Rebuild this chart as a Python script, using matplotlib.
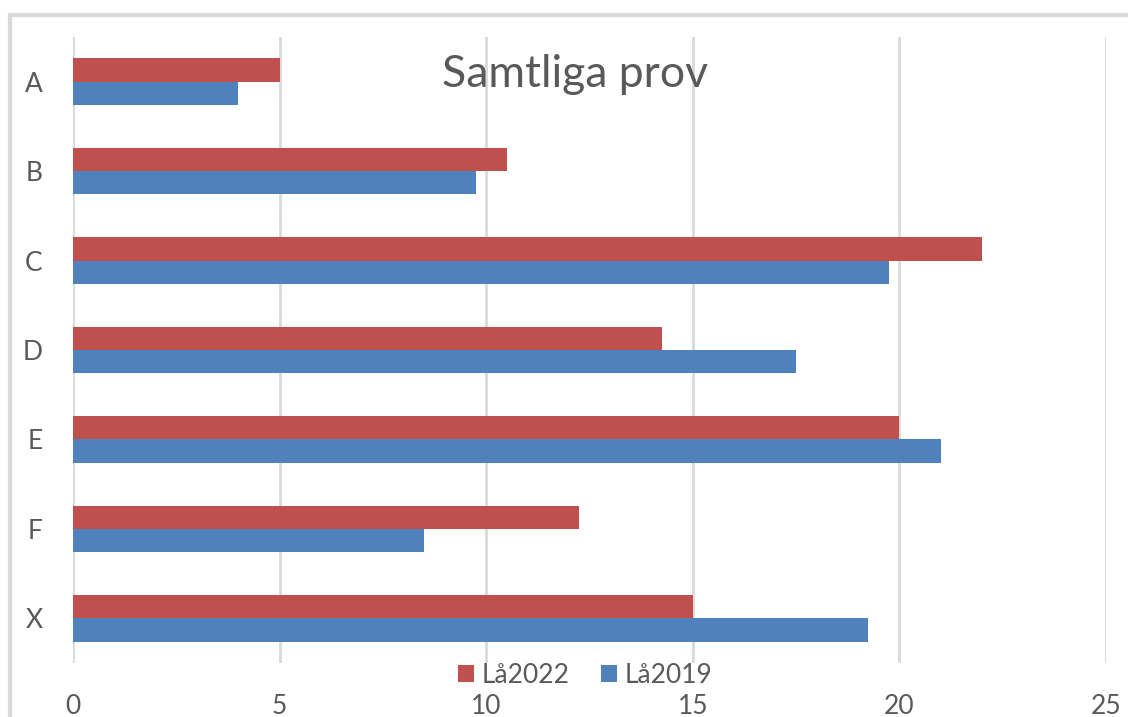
import matplotlib.pyplot as plt
import numpy as np
from matplotlib.patches import Rectangle

categories = ["A", "B", "C", "D", "E", "F", "X"]
la2022 = [5, 10.5, 22, 14.25, 20, 12.25, 15]
la2019 = [4, 9.75, 19.75, 17.5, 21, 8.5, 19.25]
x_ticks = [0, 5, 10, 15, 20, 25]

RED = "#C0504D"
BLUE = "#4F81BD"
GRID = "#D9D9D9"
TEXT = "#595959"

plt.rcParams["font.family"] = ["Lato", "DejaVu Sans"]

fig = plt.figure(figsize=(11.28, 7.17), dpi=100)
ax = fig.add_axes([73 / 1128, 1 - 663 / 717, (1106 - 73) / 1128, (663 - 37) / 717])

y = np.arange(len(categories))
h = 0.26
ax.barh(y - h / 2, la2022, height=h, color=RED, label="Lå2022", zorder=3)
ax.barh(y + h / 2, la2019, height=h, color=BLUE, label="Lå2019", zorder=3)

ax.set_ylim(len(categories) - 0.5, -0.5)
ax.set_xlim(0, 25)
ax.set_yticks(y)
ax.set_yticklabels(categories)
ax.set_xticks(x_ticks)
ax.tick_params(axis="both", length=0, labelsize=19, colors=TEXT)
ax.tick_params(axis="x", pad=22)
ax.tick_params(axis="y", pad=22)
ax.grid(axis="x", color=GRID, linewidth=2, zorder=0)
for s in ax.spines.values():
    s.set_visible(False)

ax.text(0.486, 0.94, "Samtliga prov", transform=ax.transAxes, ha="center",
        va="center", fontsize=32, color=TEXT, zorder=4)

ax.legend(loc="center", bbox_to_anchor=(0.496, -0.02), ncol=2, frameon=False,
          fontsize=19, labelcolor=TEXT, handlelength=0.6, handleheight=0.6,
          handletextpad=0.3, columnspacing=1.2)

fig.patches.append(Rectangle((10 / 1128, -0.1), 1.2, 1 - 15 / 717 + 0.1,
                             transform=fig.transFigure, fill=False,
                             edgecolor=GRID, linewidth=3))

fig.savefig("out.png", dpi=100)
